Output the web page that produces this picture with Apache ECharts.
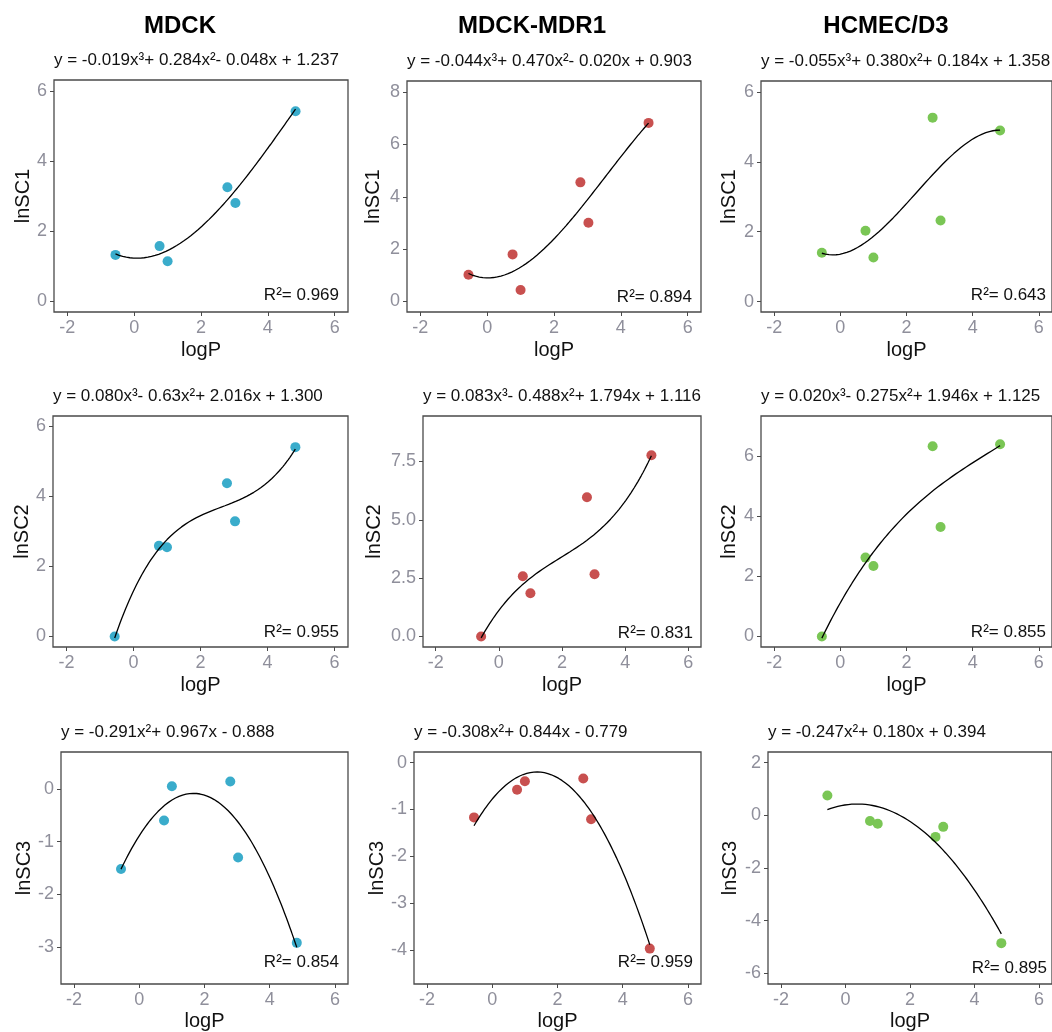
<!DOCTYPE html>
<html>
<head>
<meta charset="utf-8">
<script src="https://cdn.jsdelivr.net/npm/echarts@6/dist/echarts.min.js"></script>
<style>
html,body{margin:0;padding:0;background:#fff;}
#chart{width:1052px;height:1032px;}
</style>
</head>
<body>
<div id="chart"></div>
<script>
// ---------------- data ----------------
const cellLines = ['MDCK', 'MDCK-MDR1', 'HCMEC/D3'];
const responses = ['lnSC1', 'lnSC2', 'lnSC3'];
const logP = [-0.56, 0.76, 1.0, 2.79, 3.03, 4.83];

// lnSC values per cell line (same order as logP)
const mdck_SC1 = [1.33, 1.58, 1.15, 3.26, 2.81, 5.43];
const mdr1_SC1 = [1.02, 1.80, 0.44, 4.55, 3.01, 6.82];
const hcmec_SC1 = [1.40, 2.03, 1.26, 5.27, 2.32, 4.90];
const mdck_SC2 = [0.00, 2.59, 2.55, 4.38, 3.29, 5.41];
const mdr1_SC2 = [0.00, 2.58, 1.85, 5.97, 2.67, 7.77];
const hcmec_SC2 = [0.00, 2.63, 2.35, 6.34, 3.65, 6.41];
const mdck_SC3 = [-1.52, -0.60, 0.05, 0.14, -1.30, -2.92];
const mdr1_SC3 = [-1.17, -0.58, -0.40, -0.34, -1.21, -3.97];
const hcmec_SC3 = [0.75, -0.22, -0.32, -0.82, -0.44, -4.85];

// fitted polynomial coefficients (highest power first), as printed in the chart
const mdck_SC1_fit = [-0.019, 0.284, -0.048, 1.237];
const mdr1_SC1_fit = [-0.044, 0.470, -0.020, 0.903];
const hcmec_SC1_fit = [-0.055, 0.380, 0.184, 1.358];
const mdck_SC2_fit = [0.080, -0.63, 2.016, 1.300];
const mdr1_SC2_fit = [0.083, -0.488, 1.794, 1.116];
const hcmec_SC2_fit = [0.020, -0.275, 1.946, 1.125];
const mdck_SC3_fit = [-0.291, 0.967, -0.888];
const mdr1_SC3_fit = [-0.308, 0.844, -0.779];
const hcmec_SC3_fit = [-0.247, 0.180, 0.394];

const equations = [
  'y = -0.019x³+ 0.284x²- 0.048x + 1.237',
  'y = -0.044x³+ 0.470x²- 0.020x + 0.903',
  'y = -0.055x³+ 0.380x²+ 0.184x + 1.358',
  'y = 0.080x³- 0.63x²+ 2.016x + 1.300',
  'y = 0.083x³- 0.488x²+ 1.794x + 1.116',
  'y = 0.020x³- 0.275x²+ 1.946x + 1.125',
  'y = -0.291x²+ 0.967x - 0.888',
  'y = -0.308x²+ 0.844x - 0.779',
  'y = -0.247x²+ 0.180x + 0.394'
];
const r2 = ['0.969', '0.894', '0.643', '0.955', '0.831', '0.855', '0.854', '0.959', '0.895'];

const xTicks = [-2, 0, 2, 4, 6];
const yTicks = [
  [0, 2, 4, 6], [0, 2, 4, 6, 8], [0, 2, 4, 6],
  [0, 2, 4, 6], [0, 2.5, 5, 7.5], [0, 2, 4, 6],
  [-3, -2, -1, 0], [-4, -3, -2, -1, 0], [-6, -4, -2, 0, 2]
];
const yRange = [
  [-0.3, 6.32], [-0.4, 8.42], [-0.3, 6.32],
  [-0.3, 6.3], [-0.45, 9.45], [-0.35, 7.35],
  [-3.7, 0.7], [-4.725, 0.225], [-6.4, 2.4]
];
const xRange = [-2.4, 6.4];

const values = [mdck_SC1, mdr1_SC1, hcmec_SC1, mdck_SC2, mdr1_SC2, hcmec_SC2, mdck_SC3, mdr1_SC3, hcmec_SC3];
const fits = [mdck_SC1_fit, mdr1_SC1_fit, hcmec_SC1_fit, mdck_SC2_fit, mdr1_SC2_fit, hcmec_SC2_fit, mdck_SC3_fit, mdr1_SC3_fit, hcmec_SC3_fit];

// ---------------- layout / style ----------------
const FONT = '"Liberation Sans", Arial, Helvetica, sans-serif';
const colors = ['#3AACCB', '#C8504F', '#7AC655'];
const grids = [
  {left: 54, top: 80, width: 294, height: 232},
  {left: 407, top: 81, width: 294, height: 231},
  {left: 761, top: 81, width: 293, height: 231},
  {left: 53, top: 416, width: 295, height: 231},
  {left: 423, top: 416, width: 278, height: 231},
  {left: 761, top: 416, width: 293, height: 231},
  {left: 61, top: 752, width: 287, height: 232},
  {left: 414, top: 752, width: 287, height: 232},
  {left: 768, top: 752, width: 286, height: 232}
];
const yNameGap = [21, 24, 22, 20, 39, 22, 25, 23, 28];
const xNameGap = [28, 28, 28, 28, 28, 28, 27, 27, 27];
const titleCenters = [180, 532, 886];
const r2Right = [339, 692, 1046, 339, 693, 1046, 339, 693, 1047];
const r2Y = [295, 297, 295, 632, 633, 632, 962, 962, 968];

function poly(c, x) {
  let y = 0;
  for (let i = 0; i < c.length; i++) y = y * x + c[i];
  return y;
}

const option = {
  backgroundColor: '#fff',
  animation: false,
  grid: [], xAxis: [], yAxis: [], series: [], graphic: []
};

for (let i = 0; i < 9; i++) {
  const col = i % 3, row = Math.floor(i / 3);
  option.grid.push(Object.assign({show: true, borderColor: '#4a4a4a', borderWidth: 1.3, backgroundColor: '#fff', containLabel: false}, grids[i]));
  option.xAxis.push({
    type: 'value', gridIndex: i, min: xRange[0], max: xRange[1], position: 'bottom',
    name: 'logP', nameLocation: 'middle', nameGap: xNameGap[i],
    nameTextStyle: {fontFamily: FONT, fontSize: 20, color: '#111'},
    axisLine: {show: false, onZero: false},
    axisTick: {show: true, inside: false, length: 4, customValues: xTicks, lineStyle: {color: '#4a4a4a', width: 1}},
    axisLabel: {show: true, customValues: xTicks, margin: 7, fontFamily: FONT, fontSize: 18, color: '#8f8f9b'},
    splitLine: {show: false}
  });
  option.yAxis.push({
    type: 'value', gridIndex: i, min: yRange[i][0], max: yRange[i][1], position: 'left',
    name: responses[row], nameLocation: 'middle', nameRotate: 90, nameGap: yNameGap[i],
    nameTextStyle: {fontFamily: FONT, fontSize: 20, color: '#111'},
    axisLine: {show: false, onZero: false},
    axisTick: {show: true, inside: false, length: 4, customValues: yTicks[i], lineStyle: {color: '#4a4a4a', width: 1}},
    axisLabel: {show: true, customValues: yTicks[i], margin: 7, fontFamily: FONT, fontSize: 18, color: '#8f8f9b',
      formatter: (i === 4) ? (v => Number(v).toFixed(1)) : (v => String(v))},
    splitLine: {show: false}
  });
  option.series.push({
    type: 'scatter', xAxisIndex: i, yAxisIndex: i, symbolSize: 10,
    itemStyle: {color: colors[col], opacity: 1},
    data: logP.map((x, k) => [x, values[i][k]]), z: 2
  });
  const xs = Math.min(...logP), xe = Math.max(...logP);
  const curve = [];
  for (let k = 0; k <= 100; k++) {
    const x = xs + (xe - xs) * k / 100;
    curve.push([x, poly(fits[i], x)]);
  }
  option.series.push({
    type: 'line', xAxisIndex: i, yAxisIndex: i, data: curve, showSymbol: false, symbol: 'none',
    lineStyle: {color: '#000', width: 1.3}, z: 3, silent: true
  });
  option.graphic.push({
    type: 'text', x: grids[i].left, y: grids[i].top - 20,
    style: {text: equations[i], fontFamily: FONT, fontSize: 17, fill: '#111', align: 'left', verticalAlign: 'middle'}
  });
  option.graphic.push({
    type: 'text', x: r2Right[i], y: r2Y[i],
    style: {text: 'R²= ' + r2[i], fontFamily: FONT, fontSize: 17, fill: '#111', align: 'right', verticalAlign: 'middle'}
  });
}
for (let c = 0; c < 3; c++) {
  option.graphic.push({
    type: 'text', x: titleCenters[c], y: 26,
    style: {text: cellLines[c], fontFamily: FONT, fontSize: 24, fontWeight: 'bold', fill: '#000', align: 'center', verticalAlign: 'middle'}
  });
}

const chart = echarts.init(document.getElementById('chart'), null, {renderer: 'canvas'});
chart.setOption(option);
</script>
</body>
</html>
